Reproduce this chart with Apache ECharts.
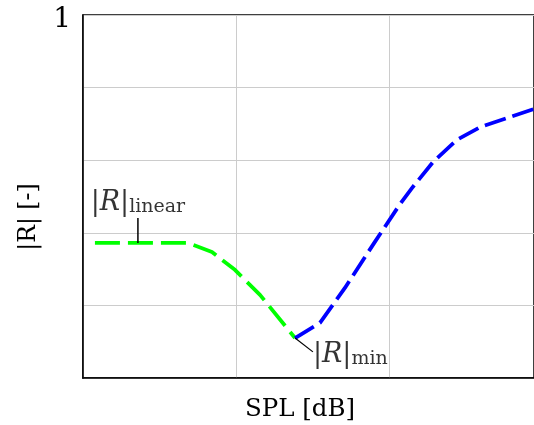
<!DOCTYPE html>
<html><head><meta charset="utf-8">
<script src="https://cdn.jsdelivr.net/npm/echarts@6/dist/echarts.min.js"></script>
<style>html,body{margin:0;padding:0;background:#fff}#c{width:534px;height:425px}</style>
</head><body><div id="c"></div>
<script>
var greenX = [0.078, 0.686, 0.843, 0.993, 1.157, 1.386];
var greenY = [0.372, 0.372, 0.347, 0.298, 0.229, 0.110];
var blueX = [1.386, 1.549, 1.712, 1.908, 2.072, 2.150, 2.288, 2.444, 2.595, 2.791, 2.948];
var blueY = [0.110, 0.152, 0.248, 0.375, 0.479, 0.523, 0.595, 0.656, 0.691, 0.719, 0.741];
var linearLeader = [[0.359, 0.372], [0.359, 0.441]];
var minLeader = [[1.386, 0.110], [1.503, 0.072]];
var yTickLabels = {1: '1'};
var xTitle = 'SPL [dB]';
var yTitle = '|R| [-]';

function zip(a, b) { return a.map(function (v, i) { return [v, b[i]]; }); }
var serif = 'DejaVu Serif';
var rich = {
  n: {fontFamily: serif, fontSize: 27, color: '#000', verticalAlign: 'bottom', lineHeight: 34},
  i: {fontFamily: serif, fontSize: 27, fontStyle: 'italic', color: '#000', verticalAlign: 'bottom', lineHeight: 34},
  s: {fontFamily: serif, fontSize: 19, color: '#000', verticalAlign: 'bottom', lineHeight: 27}
};
var chart = echarts.init(document.getElementById('c'), null, {renderer: 'canvas'});
chart.setOption({
  animation: false,
  grid: {left: 83, top: 15, right: 0, bottom: 47, show: true, borderColor: '#000', borderWidth: 1.5},
  xAxis: {type: 'value', min: 0, max: 2.948, interval: 1,
    axisLine: {show: true, lineStyle: {color: '#000', width: 1.5}},
    axisTick: {show: false}, axisLabel: {show: false},
    splitLine: {show: true, lineStyle: {color: '#cccccc', width: 1}}},
  yAxis: {type: 'value', min: 0, max: 1, interval: 0.2,
    axisLine: {show: true, lineStyle: {color: '#000', width: 1.5}},
    axisTick: {show: false},
    axisLabel: {show: true, margin: 12, color: '#000',
      rich: {a: {fontFamily: serif, fontSize: 28, color: '#000', padding: [9, 0, 0, 0]}},
      formatter: function (v) { var t = yTickLabels[Math.round(v * 10) / 10]; return t ? '{a|' + t + '}' : ''; }},
    splitLine: {show: true, lineStyle: {color: '#cccccc', width: 1}}},
  graphic: [
    {type: 'text', x: 300, y: 410, style: {text: xTitle, fontFamily: serif, fontSize: 24.5, fill: '#000', textAlign: 'center', textVerticalAlign: 'middle'}},
    {type: 'text', x: 29, y: 217, rotation: Math.PI / 2, style: {text: yTitle, fontFamily: serif, fontSize: 23.5, fill: '#000', textAlign: 'center', textVerticalAlign: 'middle'}}
  ],
  series: [
    {type: 'line', data: zip(greenX, greenY), symbol: 'none', z: 3,
      lineStyle: {color: '#00ff00', width: 3.8, type: [25, 8]}},
    {type: 'line', data: zip(blueX, blueY), symbol: 'none', z: 3,
      lineStyle: {color: '#0000ff', width: 3.8, type: [22, 7]}},
    {type: 'line', data: linearLeader, symbol: 'none', z: 4,
      lineStyle: {color: '#000', width: 1.5}},
    {type: 'line', data: minLeader, symbol: 'none', z: 4,
      lineStyle: {color: '#000', width: 1.2}},
    {type: 'scatter', symbolSize: 0, z: 5,
      data: [{value: linearLeader[1], label: {show: true, position: 'top', distance: 1, color: '#000',
        formatter: '{n||}{i|R}{n||}{s|linear}', rich: rich}}]},
    {type: 'scatter', symbolSize: 0, z: 5,
      data: [{value: minLeader[1], label: {show: true, position: 'right', distance: 0, color: '#000',
        formatter: '{n||}{i|R}{n||}{s|min}', rich: rich}}]}
  ]
});
</script></body></html>
